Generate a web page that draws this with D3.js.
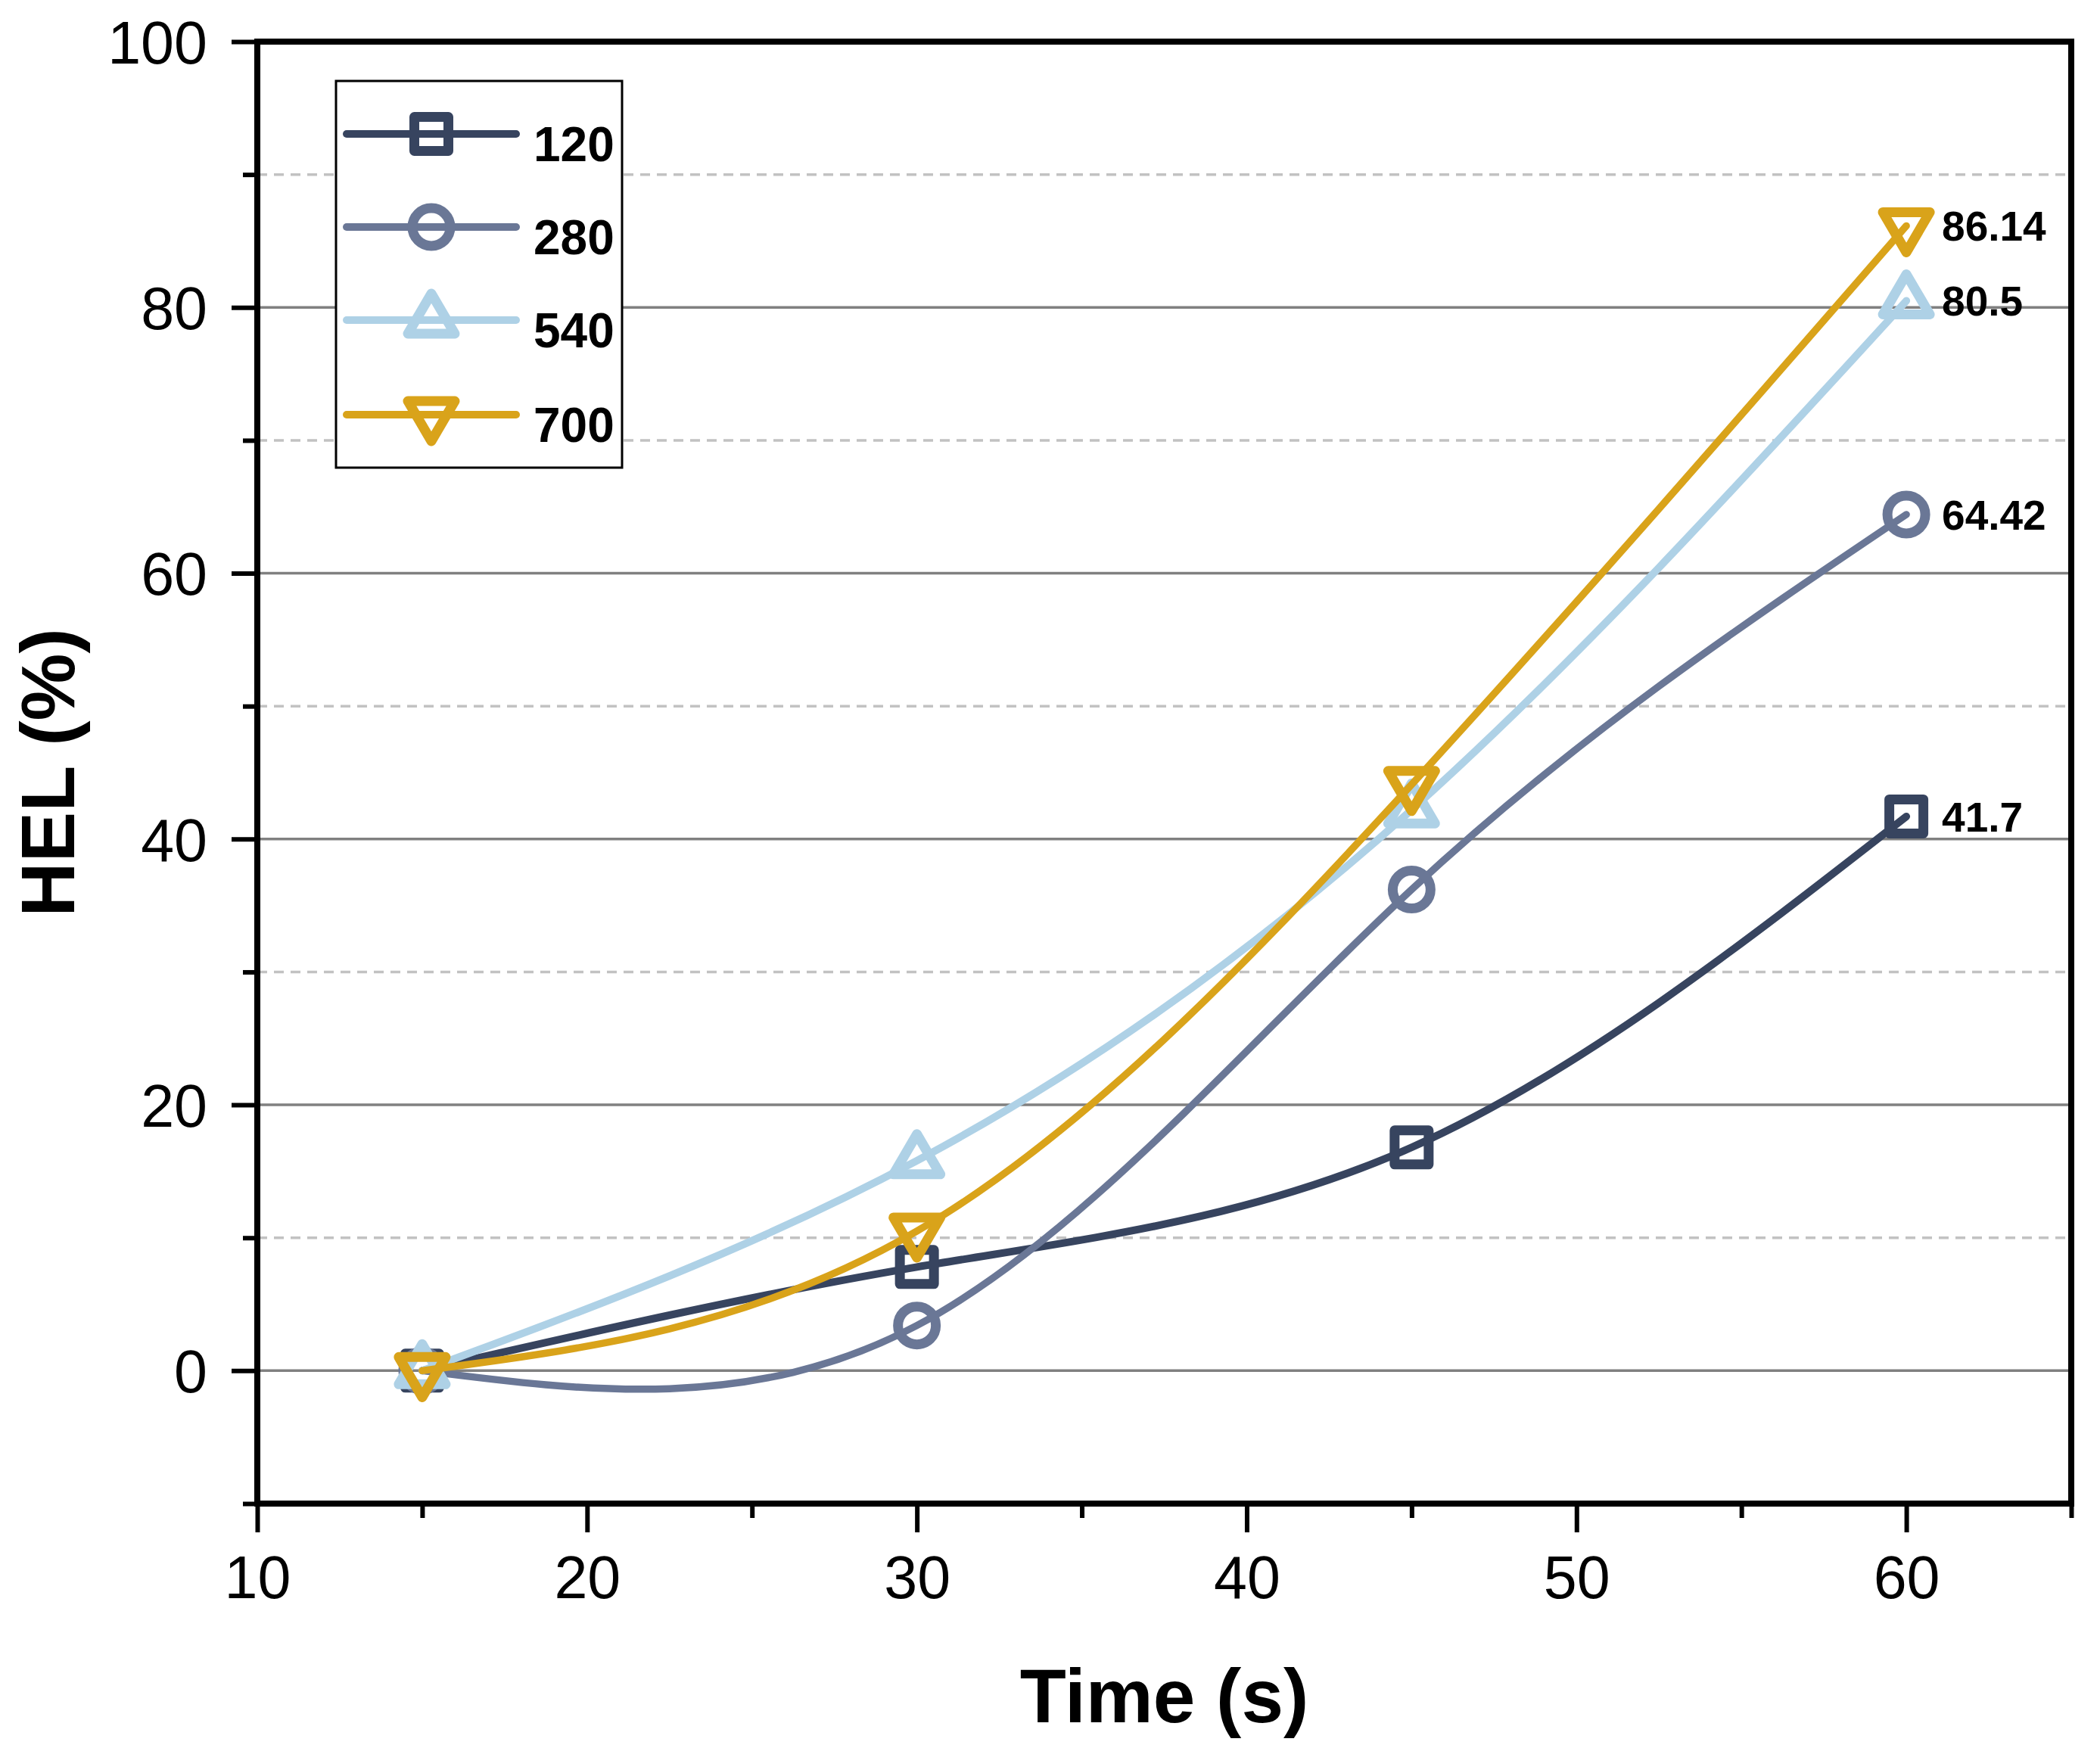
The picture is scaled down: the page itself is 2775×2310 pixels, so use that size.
<!DOCTYPE html>
<html>
<head>
<meta charset="utf-8">
<script src="https://cdn.jsdelivr.net/npm/d3@7"></script>
<style>
  html, body { margin: 0; padding: 0; background: #fff; }
  svg { display: block; }
  text { font-family: "Liberation Sans", Arial, sans-serif; }
</style>
</head>
<body>
<svg id="chart" width="2775" height="2310"></svg>
<script>
// ---- data ----
const times = [15, 30, 45, 60];
const seriesNames = ["120", "280", "540", "700"];
const values120 = [0, 7.8, 16.8, 41.7];
const values280 = [0, 3.4, 36.2, 64.42];
const values540 = [0, 15.8, 42.2, 80.5];
const values700 = [0, 10.5, 44.1, 86.14];
const endLabels = ["41.7", "64.42", "80.5", "86.14"];
const xMajorTicks = [10, 20, 30, 40, 50, 60];
const xMinorTicks = [15, 25, 35, 45, 55, 65];
const yMajorTicks = [0, 20, 40, 60, 80, 100];
const yMinorTicks = [-10, 10, 30, 50, 70, 90];

const colors = ["#37445f", "#6a7796", "#aed1e6", "#d9a31a"];
const symbols = ["square", "circle", "triangleUp", "triangleDown"];
const lineWidths = [10, 9.5, 10, 9.5];

const series = [values120, values280, values540, values700].map((vals, i) => ({
  name: seriesNames[i], color: colors[i], symbol: symbols[i], lw: lineWidths[i],
  label: endLabels[i],
  points: times.map((t, j) => ({ x: t, y: vals[j] }))
}));

// ---- layout ----
const L = 340, R = 2737, T = 55, B = 1987;
const x = d3.scaleLinear().domain([10, 65]).range([L, R]);
const y = d3.scaleLinear().domain([-10, 100]).range([B, T]);

const svg = d3.select("#chart");

// grid lines
svg.append("g").selectAll("line").data(yMinorTicks.filter(v => v > -10))
  .join("line")
  .attr("x1", L).attr("x2", R)
  .attr("y1", d => y(d)).attr("y2", d => y(d))
  .attr("stroke", "#c2c2c2").attr("stroke-width", 3.5)
  .attr("stroke-dasharray", "13 9");
svg.append("g").selectAll("line").data(yMajorTicks.filter(v => v < 100))
  .join("line")
  .attr("x1", L).attr("x2", R)
  .attr("y1", d => y(d)).attr("y2", d => y(d))
  .attr("stroke", "#808080").attr("stroke-width", 3.5);

// axes
const fontTick = 79;
const xAxis = svg.append("g").attr("transform", `translate(0,${B})`)
  .call(d3.axisBottom(x).tickValues(xMajorTicks).tickSize(38).tickPadding(31).tickFormat(d3.format("d")));
const xAxisMinor = svg.append("g").attr("transform", `translate(0,${B})`)
  .call(d3.axisBottom(x).tickValues(xMinorTicks).tickSize(19).tickFormat(""));
const yAxis = svg.append("g").attr("transform", `translate(${L},0)`)
  .call(d3.axisLeft(y).tickValues(yMajorTicks).tickSize(34).tickPadding(32).tickFormat(d3.format("d")));
const yAxisMinor = svg.append("g").attr("transform", `translate(${L},0)`)
  .call(d3.axisLeft(y).tickValues(yMinorTicks).tickSize(19).tickFormat(""));

[xAxis, xAxisMinor, yAxis, yAxisMinor].forEach(g => {
  g.select(".domain").remove();
  g.selectAll(".tick line").attr("stroke", "#000").attr("stroke-width", 6);
  g.selectAll(".tick text").attr("fill", "#000").attr("font-size", fontTick)
    .style("font-family", "'Liberation Sans', Arial, sans-serif");
});
xAxis.selectAll(".tick text").attr("dy", "0.71em");
yAxis.selectAll(".tick text").attr("dy", "0.36em");

// frame
svg.append("rect")
  .attr("x", L).attr("y", T).attr("width", R - L).attr("height", B - T)
  .attr("fill", "none").attr("stroke", "#000").attr("stroke-width", 8);

// axis titles
svg.append("text")
  .attr("x", (L + R) / 2).attr("y", 2276)
  .attr("text-anchor", "middle").attr("font-size", 100).attr("font-weight", "bold")
  .text("Time (s)");
svg.append("text")
  .attr("transform", `translate(98,${(T + B) / 2}) rotate(-90)`)
  .attr("text-anchor", "middle").attr("font-size", 100).attr("font-weight", "bold")
  .text("HEL (%)");

// marker drawing
function markerPath(sym) {
  if (sym === "square") { const s = 22.5; return `M${-s},${-s}H${s}V${s}H${-s}Z`; }
  if (sym === "circle") { const r = 25; return `M${r},0A${r},${r} 0 1 1 ${-r},0A${r},${r} 0 1 1 ${r},0Z`; }
  if (sym === "triangleUp") return `M0,-35L31,18H-31Z`;
  return `M0,35L31,-18H-31Z`;
}
const markerStroke = 13;

// lines + markers
const line = d3.line().x(d => x(d.x)).y(d => y(d.y)).curve(d3.curveNatural);
const plotG = svg.append("g");
series.forEach(s => {
  plotG.append("path").datum(s.points)
    .attr("d", line)
    .attr("fill", "none").attr("stroke", s.color)
    .attr("stroke-width", s.lw).attr("stroke-linecap", "round").attr("stroke-linejoin", "round");
  plotG.append("g").selectAll("path").data(s.points).join("path")
    .attr("transform", d => `translate(${x(d.x)},${y(d.y)})`)
    .attr("d", markerPath(s.symbol))
    .attr("fill", "none").attr("stroke", s.color).attr("stroke-width", markerStroke)
    .attr("stroke-linejoin", "round");
});

// end labels
series.forEach(s => {
  const last = s.points[s.points.length - 1];
  svg.append("text")
    .attr("x", x(last.x) + 47).attr("y", y(last.y))
    .attr("dy", "0.36em")
    .attr("font-size", 55).attr("font-weight", "bold")
    .text(s.label);
});

// legend
const lg = svg.append("g");
lg.append("rect").attr("x", 444).attr("y", 107).attr("width", 378).attr("height", 511)
  .attr("fill", "#fff").attr("stroke", "#000").attr("stroke-width", 3);
const rowY = [177, 300, 423, 548];
series.forEach((s, i) => {
  const gy = rowY[i];
  lg.append("line").attr("x1", 458).attr("x2", 682).attr("y1", gy).attr("y2", gy)
    .attr("stroke", s.color).attr("stroke-width", 10).attr("stroke-linecap", "round");
  lg.append("path").attr("transform", `translate(570,${gy})`)
    .attr("d", markerPath(s.symbol))
    .attr("fill", "none").attr("stroke", s.color).attr("stroke-width", markerStroke)
    .attr("stroke-linejoin", "round");
  lg.append("text").attr("x", 705).attr("y", gy + 36)
    .attr("font-size", 64).attr("font-weight", "bold").text(s.name);
});
</script>
</body>
</html>
